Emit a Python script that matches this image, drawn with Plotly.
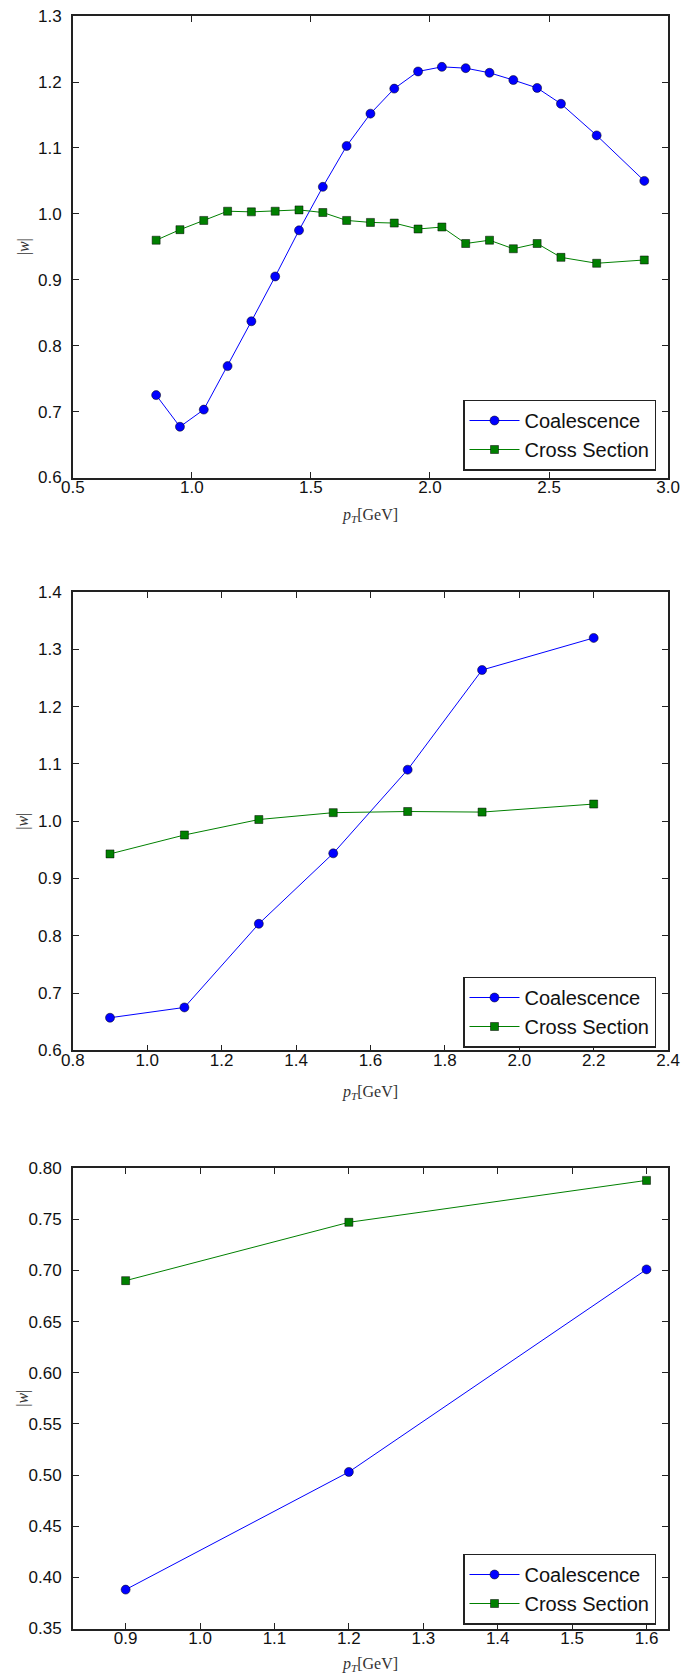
import plotly.graph_objects as go

# ---------------- data ----------------
pt1 = [0.85, 0.95, 1.05, 1.15, 1.25, 1.35, 1.45, 1.55, 1.65, 1.75,
       1.85, 1.95, 2.05, 2.15, 2.25, 2.35, 2.45, 2.55, 2.7, 2.9]
coal1 = [0.725, 0.677, 0.703, 0.769, 0.837, 0.905, 0.975, 1.041, 1.103, 1.152,
         1.190, 1.216, 1.223, 1.221, 1.214, 1.203, 1.191, 1.167, 1.119, 1.050]
cross1 = [0.960, 0.976, 0.990, 1.004, 1.003, 1.004, 1.006, 1.002, 0.990, 0.987,
          0.986, 0.977, 0.980, 0.955, 0.960, 0.947, 0.955, 0.934, 0.925, 0.930]

pt2 = [0.9, 1.1, 1.3, 1.5, 1.7, 1.9, 2.2]
coal2 = [0.657, 0.675, 0.821, 0.944, 1.090, 1.264, 1.320]
cross2 = [0.943, 0.976, 1.003, 1.015, 1.017, 1.016, 1.030]

pt3 = [0.9, 1.2, 1.6]
coal3 = [0.388, 0.503, 0.701]
cross3 = [0.690, 0.747, 0.788]

xticks1 = [0.5, 1.0, 1.5, 2.0, 2.5, 3.0]
yticks1 = [0.6, 0.7, 0.8, 0.9, 1.0, 1.1, 1.2, 1.3]
xticks2 = [0.8, 1.0, 1.2, 1.4, 1.6, 1.8, 2.0, 2.2, 2.4]
yticks2 = [0.6, 0.7, 0.8, 0.9, 1.0, 1.1, 1.2, 1.3, 1.4]
xticks3 = [0.9, 1.0, 1.1, 1.2, 1.3, 1.4, 1.5, 1.6]
yticks3 = [0.35, 0.40, 0.45, 0.50, 0.55, 0.60, 0.65, 0.70, 0.75, 0.80]

series_names = ["Coalescence", "Cross Section"]
x_title = "<i>p</i><sub><i>T</i></sub>[GeV]"
y_title = "|<i>w</i>|"

# ---------------- layout geometry ----------------
W, H = 682, 1679
x_dom = [72.8 / W, 668.1 / W]
panels_px = [(16.1, 477.5), (592.1, 1050.4), (1168.1, 1628.5)]
y_doms = [[1 - b / H, 1 - t / H] for (t, b) in panels_px]

panels = [
    dict(x=pt1, c=coal1, s=cross1, xr=[0.5, 3.0], yr=[0.6, 1.3],
         xt=xticks1, yt=yticks1, xf="%.1f", yf="%.1f"),
    dict(x=pt2, c=coal2, s=cross2, xr=[0.8, 2.4], yr=[0.6, 1.4],
         xt=xticks2, yt=yticks2, xf="%.1f", yf="%.1f"),
    dict(x=pt3, c=coal3, s=cross3, xr=[0.829, 1.629], yr=[0.35, 0.80],
         xt=xticks3, yt=yticks3, xf="%.1f", yf="%.2f"),
]

fig = go.Figure()
tick_font = dict(family="Liberation Sans", size=17, color="#111111")
legend_centers_px = [435, 1012, 1589]
xtitle_px = [515, 1092, 1664]

layout = dict(width=W, height=H, margin=dict(l=0, r=0, t=0, b=0),
              paper_bgcolor="white", plot_bgcolor="white",
              hovermode=False, showlegend=True)
annotations = []

for i, p in enumerate(panels):
    n = "" if i == 0 else str(i + 1)
    xa, ya = "x" + n, "y" + n
    lg = "legend" + n
    fig.add_trace(go.Scatter(
        x=p["x"], y=p["c"], name=series_names[0], mode="lines+markers",
        xaxis=xa, yaxis=ya, legend=lg,
        line=dict(color="#0000ff", width=1),
        marker=dict(symbol="circle", size=9, color="#0000ff",
                    line=dict(color="black", width=0.5))))
    fig.add_trace(go.Scatter(
        x=p["x"], y=p["s"], name=series_names[1], mode="lines+markers",
        xaxis=xa, yaxis=ya, legend=lg,
        line=dict(color="#008000", width=1),
        marker=dict(symbol="square", size=8, color="#008000",
                    line=dict(color="black", width=0.5))))

    common = dict(ticks="inside", ticklen=6, tickcolor="#222222", tickwidth=1,
                  showline=True, linecolor="#222222", linewidth=1.5, mirror="allticks",
                  showgrid=False, zeroline=False, tickfont=tick_font,
                  automargin=False, ticklabeloverflow="allow")
    layout["xaxis" + n] = dict(
        domain=x_dom, anchor=ya, range=p["xr"],
        tickmode="array", tickvals=p["xt"],
        ticktext=[p["xf"] % v for v in p["xt"]], ticklabelstandoff=-7, **common)
    layout["yaxis" + n] = dict(
        domain=y_doms[i], anchor=xa, range=p["yr"],
        tickmode="array", tickvals=p["yt"],
        ticktext=[p["yf"] % v for v in p["yt"]], ticklabelstandoff=6, **common)
    layout[lg] = dict(
        x=656 / W, xanchor="right", y=1 - legend_centers_px[i] / H, yanchor="middle",
        xref="paper", yref="paper",
        bgcolor="white", bordercolor="#222222", borderwidth=1.5,
        font=dict(family="Liberation Sans", size=20, color="#111111"),
        tracegroupgap=0, itemwidth=50)

    annotations.append(dict(
        text=x_title, xref="paper", yref="paper",
        x=(x_dom[0] + x_dom[1]) / 2, y=1 - xtitle_px[i] / H,
        xanchor="center", yanchor="middle", showarrow=False,
        font=dict(family="Liberation Serif", size=16, color="#333333")))
    annotations.append(dict(
        text=y_title, xref="paper", yref="paper",
        x=23.5 / W, y=(y_doms[i][0] + y_doms[i][1]) / 2,
        xanchor="center", yanchor="middle", showarrow=False, textangle=-90,
        font=dict(family="Liberation Serif", size=16, color="#333333")))

layout["annotations"] = annotations
fig.update_layout(**layout)
fig.write_html("out.html", config={"displayModeBar": False},
               post_script="document.body.style.margin='0';document.body.style.padding='0';")
